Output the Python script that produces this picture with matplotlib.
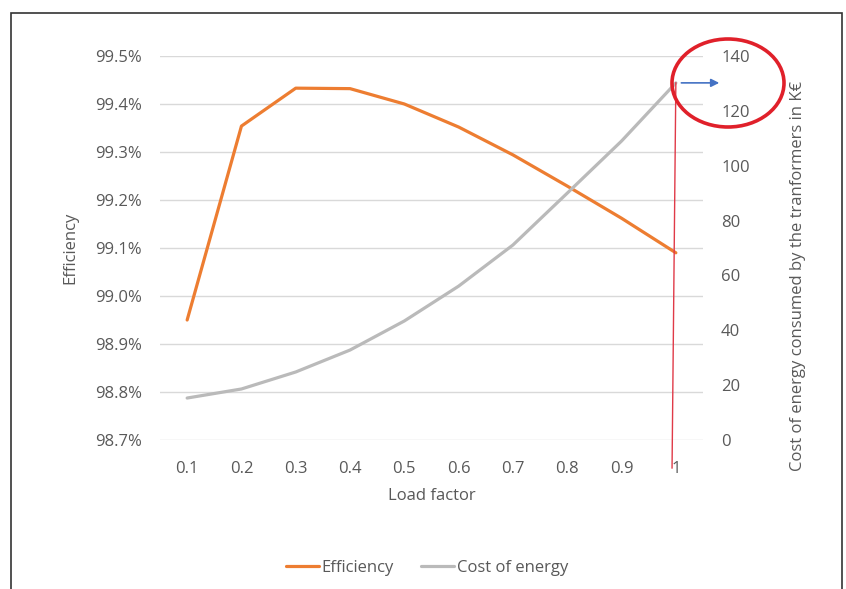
import matplotlib.pyplot as plt
from matplotlib.patches import Ellipse, Rectangle

plt.rcParams['font.family'] = ['Open Sans', 'DejaVu Sans']

# Data
load_factor = ['0.1', '0.2', '0.3', '0.4', '0.5', '0.6', '0.7', '0.8', '0.9', '1']
efficiency = [98.95, 99.354, 99.433, 99.432, 99.40, 99.352, 99.294, 99.229, 99.162, 99.09]
cost_energy = [15.3, 18.6, 24.8, 32.8, 43.4, 56.1, 71.1, 90.0, 109.0, 130.2]

left_ticks = [98.7, 98.8, 98.9, 99.0, 99.1, 99.2, 99.3, 99.4, 99.5]
right_ticks = [0, 20, 40, 60, 80, 100, 120, 140]

W, H = 846, 589
text_col = '#595959'
fs = 12

fig = plt.figure(figsize=(W / 100, H / 100), dpi=100)
ax = fig.add_axes([160 / W, 1 - 440 / H, 543 / W, 384 / H])
ax2 = ax.twinx()

x = list(range(len(load_factor)))
l1, = ax.plot(x, efficiency, color='#ED7D31', lw=2.3, label='Efficiency', solid_capstyle='round')
l2, = ax2.plot(x, cost_energy, color='#BABABA', lw=2.3, label='Cost of energy', solid_capstyle='round')

ax.set_xlim(-0.5, len(x) - 0.5)
ax.set_ylim(98.7, 99.5)
ax2.set_ylim(0, 140)
ax.set_yticks(left_ticks)
ax.set_yticklabels([f'{v:.1f}%' for v in left_ticks])
ax2.set_yticks(right_ticks)
ax.set_xticks(x)
ax.set_xticklabels(load_factor)

ax.grid(axis='y', color='#d9d9d9', lw=1)
ax.set_axisbelow(True)
for a in (ax, ax2):
    for s in a.spines.values():
        s.set_visible(False)
    a.tick_params(length=0, colors=text_col, labelsize=fs)
ax.tick_params(axis='y', pad=13)
ax.tick_params(axis='x', pad=15)
ax2.tick_params(axis='y', pad=13)

ax.set_ylabel('Efficiency', color=text_col, fontsize=fs)
ax.yaxis.set_label_coords(-(160 - 78) / 543, 0.5)
ax.set_xlabel('Load factor', color=text_col, fontsize=fs)
ax.xaxis.set_label_coords(0.5, -(488 - 440) / 384)
ax2.set_ylabel('Cost of energy consumed by the tranformers in K€', color=text_col, fontsize=fs)
ax2.yaxis.set_label_coords((790 - 160) / 543, (440 - 276) / 384)

fig.legend(handles=[l1, l2], loc='center', bbox_to_anchor=(427 / W, 1 - 568 / H),
           ncol=2, frameon=False, fontsize=fs, labelcolor=text_col,
           handlelength=2.0, handletextpad=0.15, columnspacing=1.6)

# Annotations drawn on the picture
ax2.plot([x[-1], x[-1] - 0.07], [cost_energy[-1], -10.2], color='#e03a48', lw=1, clip_on=False, zorder=5)
ax2.annotate('', xy=(x[-1] + 0.85, cost_energy[-1]), xytext=(x[-1] + 0.05, cost_energy[-1]),
             arrowprops=dict(arrowstyle='-|>', color='#4472C4', lw=1.2, mutation_scale=12),
             annotation_clip=False)
fig.patches.append(Ellipse((728 / W, 1 - 83 / H), 112 / W, 88 / H, transform=fig.transFigure,
                           fill=False, edgecolor='#E0202A', lw=2.6))
fig.patches.append(Rectangle((11 / W, -0.05), 831 / W, 1.05 - 13 / H, transform=fig.transFigure,
                             fill=False, edgecolor='#333333', lw=1.2))

fig.savefig('out.png', dpi=100)
